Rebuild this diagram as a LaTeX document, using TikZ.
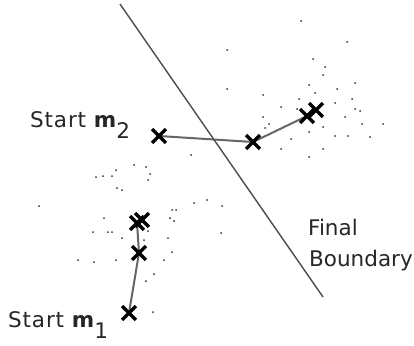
\documentclass[tikz,border=0pt]{standalone}
\usepackage{fontspec}
\setmainfont{DejaVu Sans}
\newfontfamily\spacedfont{DejaVu Sans}[LetterSpace=4]
\usetikzlibrary{shapes.misc,backgrounds}
\begin{document}
\begin{tikzpicture}[x=1pt,y=-1pt,
  xmark/.style={cross out,draw=black,line width=3.3pt,minimum size=10.5pt,inner sep=0pt},
  pathline/.style={draw=black!60,line width=2pt},
  boundary/.style={draw=black!70,line width=1.4pt},
  dot/.style={fill=black!80},
  lbl/.style={font=\fontsize{21.5}{24}\selectfont,text=black!85,inner sep=0pt,anchor=base west}]
\useasboundingbox (0,0) rectangle (414,345);
% boundary
\coordinate (btop) at (120,4);
\coordinate (bbot) at (323,297);
\draw[boundary] (btop) -- (bbot);
% crosses, class 2
\node[xmark] (s2) at (159,136) {};
\node[xmark] (a2) at (253,142) {};
\node[xmark] (f2a) at (307,116) {};
\node[xmark] (f2b) at (316,110) {};
% crosses, class 1
\node[xmark] (s1) at (129,313) {};
\node[xmark] (a1) at (139,253) {};
\node[xmark] (f1a) at (137,223) {};
\node[xmark] (f1b) at (142,220) {};
\begin{scope}[on background layer]
\draw[pathline] (s2.center) -- (a2.center) -- (f2a.center);
\draw[pathline] (s1.center) -- (a1.center) -- (f1a.center);
\end{scope}
% labels
\node[lbl] (l2) at (30,127) {{\spacedfont Start} \textbf{m}\raisebox{-11pt}{2}};
\node[lbl] (l1) at (8,327) {{\spacedfont Start} \textbf{m}\raisebox{-11pt}{1}};
\node[lbl] (lf) at (308,235) {Final};
\node[lbl] (lb) at (309,266) {Boundary};
% scattered samples
\foreach \p in {(301,21),(347,42),(227,50),(313,59),(325,67),(323,75),(227,89),(309,85),
  (337,89),(355,83),(315,93),(263,95),(299,99),(352,99),(281,107),(335,103),(355,109),
  (360,111),(263,117),(269,124),(265,128),(297,109),(345,117),(362,124),(383,124),
  (323,127),(309,132),(335,136),(348,136),(370,137),(291,139),(281,149),(323,149),(309,157)}
  \fill[dot] \p circle (1pt);
\foreach \p in {(191,155),(116,170),(134,165),(146,167),(150,174),(148,180),(96,177),(103,176),
  (112,176),(117,188),(122,190),(39,206),(194,203),(207,200),(222,206),(221,233),(172,210),(176,210),
  (104,218),(170,218),(174,221),(93,232),(108,232),(112,232),(148,231),(122,238),(144,240),
  (168,238),(172,252),(78,260),(94,262),(116,260),(164,260),(154,274),(146,281),(153,312)}
  \fill[dot] \p circle (1pt);
\end{tikzpicture}
\end{document}
